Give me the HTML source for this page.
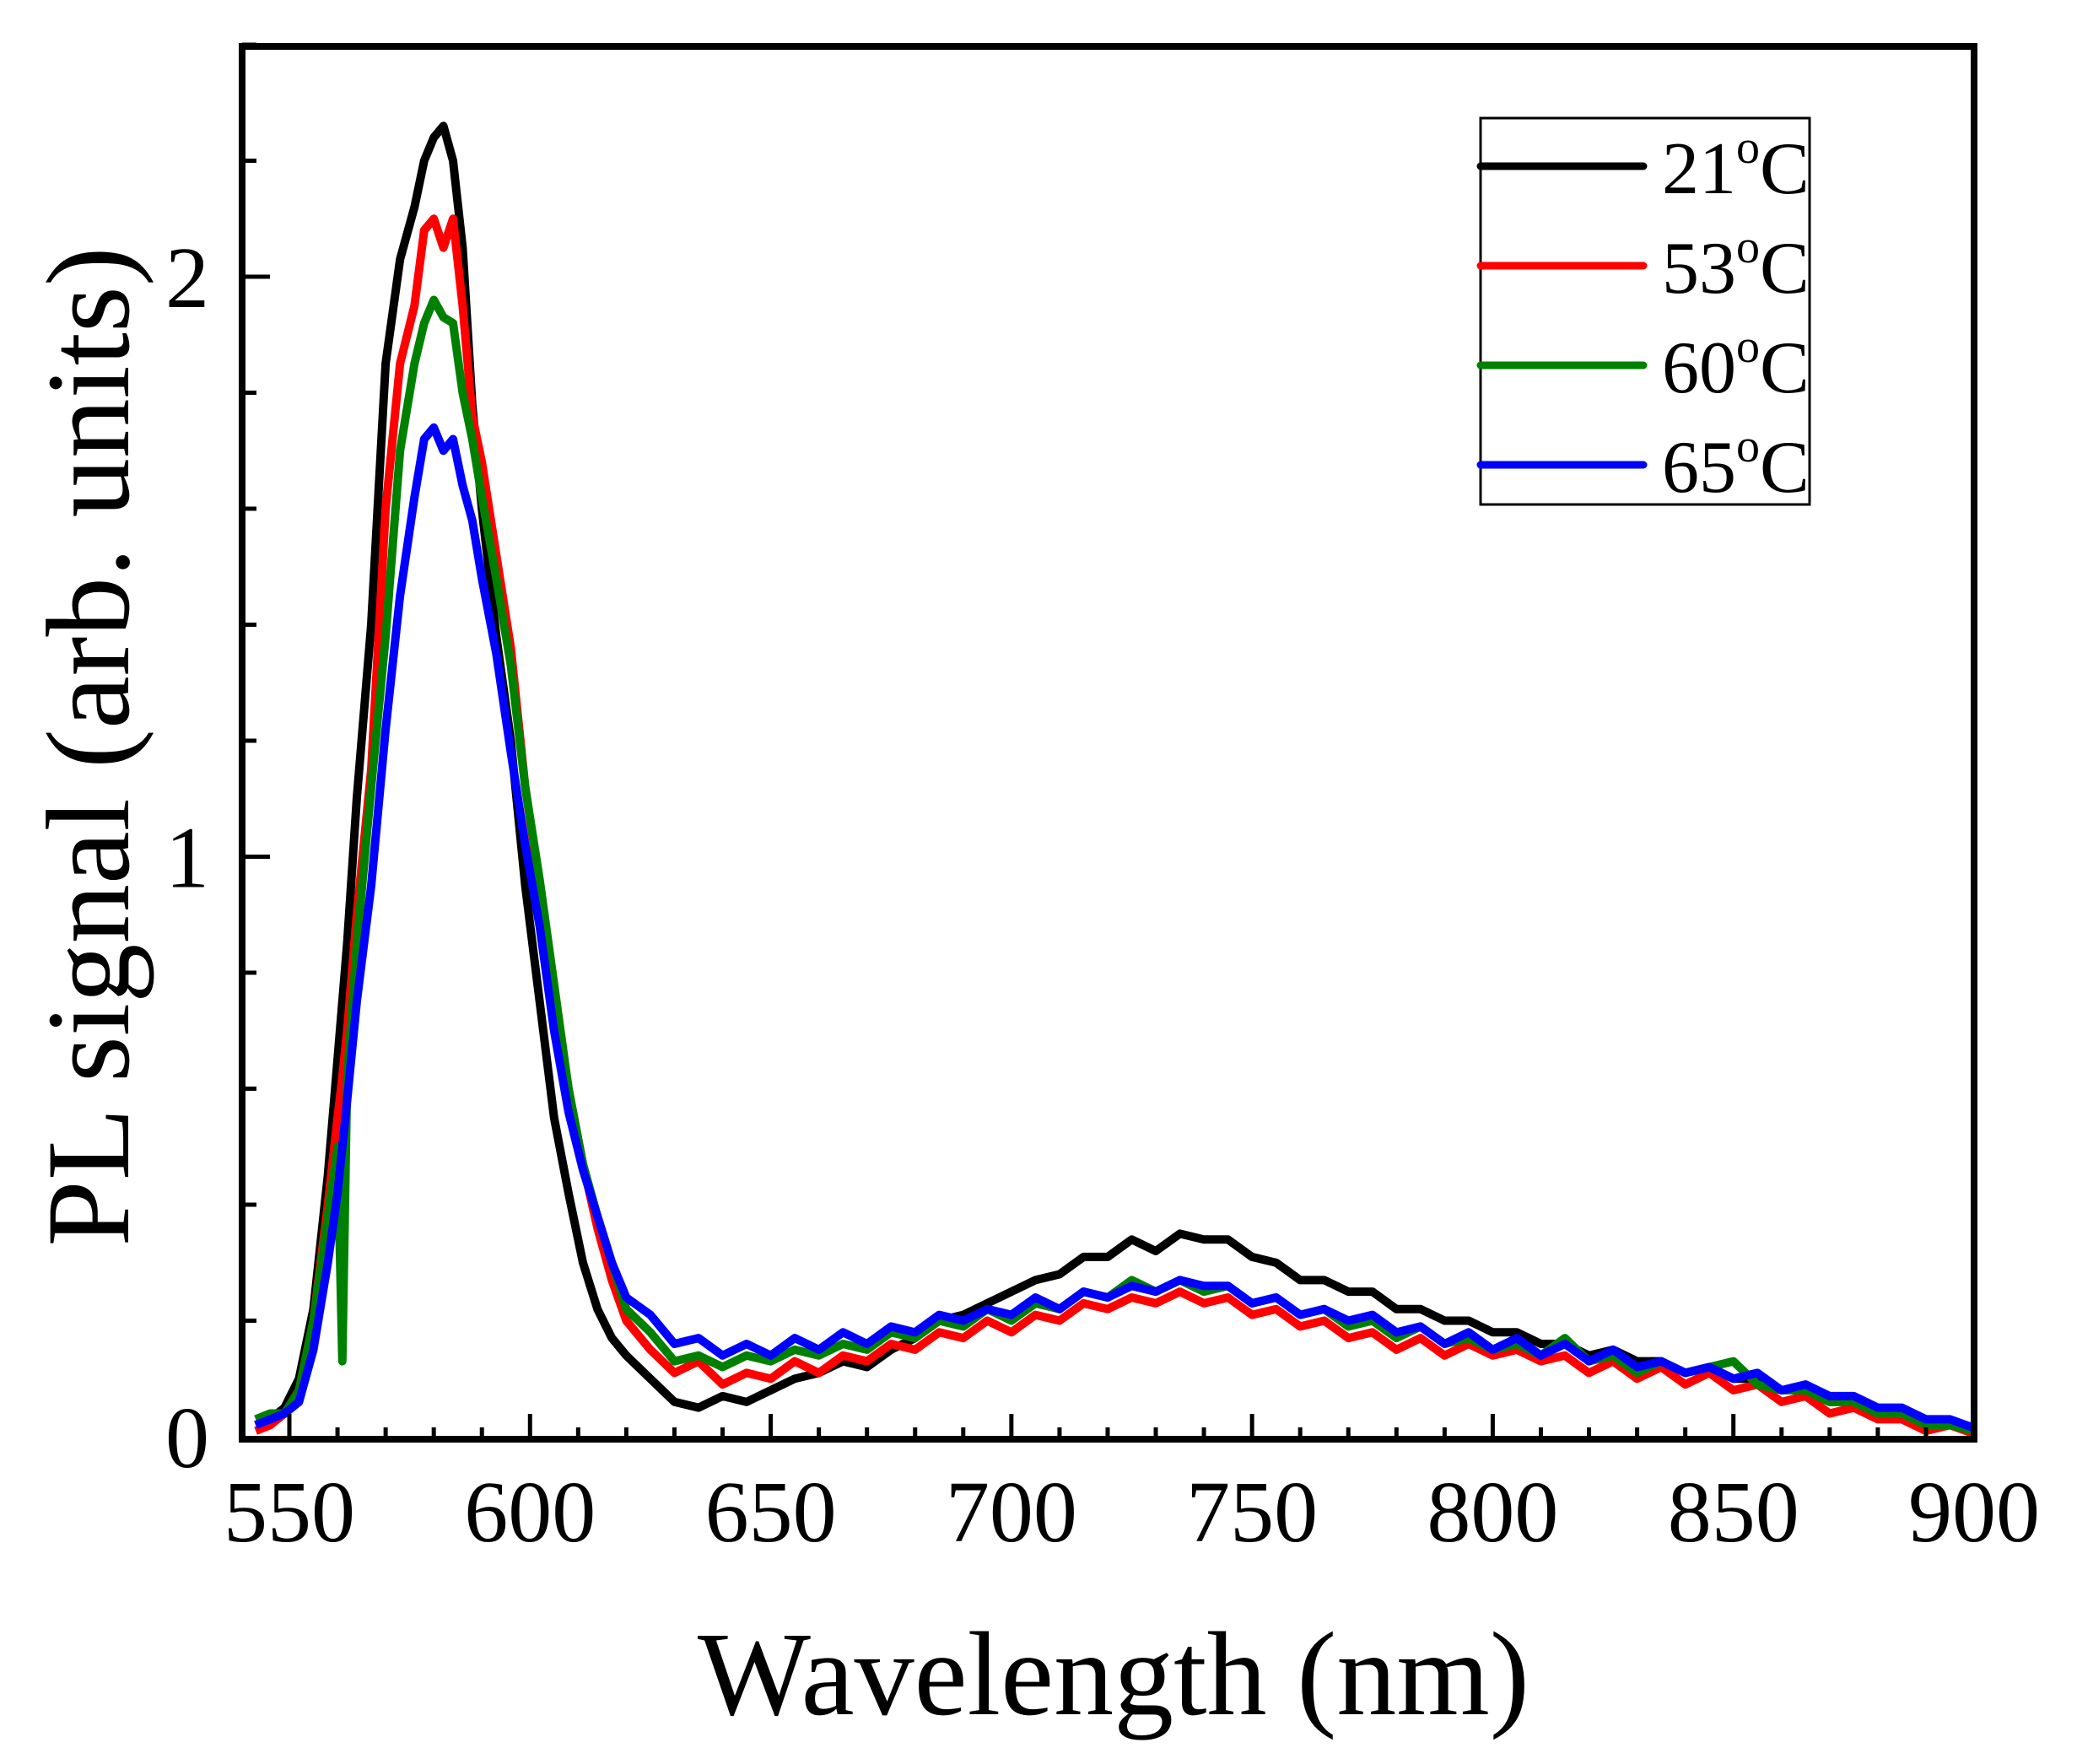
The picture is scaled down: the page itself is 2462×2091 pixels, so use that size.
<!DOCTYPE html>
<html><head><meta charset="utf-8"><title>PL spectra</title>
<style>
html,body{margin:0;padding:0;background:#fff;}
svg{display:block;}
text{font-family:"Liberation Serif","Times New Roman",serif;fill:#000;}
</style></head>
<body>
<svg id="chart" width="2462" height="2091" viewBox="0 0 2462 2091" xmlns="http://www.w3.org/2000/svg">
<rect x="0" y="0" width="2462" height="2091" fill="#fff"/>
<g id="series"></g>
<g id="axes"></g>
<text x="1320" y="2032" font-size="142" text-anchor="middle">Wavelength (nm)</text>
<text transform="translate(152,885) rotate(-90)" font-size="141" text-anchor="middle">PL signal (arb. units)</text>
<g id="legend"></g>
</svg>
<script>
const wavelengths = [543,546,549,552,555,558,560,561,562,564,567,570,573,576,578,580,582,584,586,588,590,593,596,599,602,605,608,611,614,617,620,
625,630,635,640,645,650,655,660,665,670,675,680,685,690,695,700,705,710,715,720,725,730,735,740,745,750,755,760,765,770,775,780,785,790,795,800,805,810,815,820,825,830,835,840,845,850,855,860,865,870,875,880,885,890,895,900];
const series21 = [0.02,0.03,0.05,0.1,0.22,0.45,0.65,0.75,0.85,1.1,1.4,1.85,2.03,2.12,2.2,2.24,2.26,2.2,2.05,1.78,1.6,1.38,1.2,0.95,0.75,0.55,0.42,0.3,0.22,0.17,0.14,
0.1,0.06,0.05,0.07,0.06,0.08,0.1,0.11,0.13,0.12,0.15,0.17,0.2,0.21,0.23,0.25,0.27,0.28,0.31,0.31,0.34,0.32,0.35,0.34,0.34,0.31,0.3,0.27,0.27,0.25,0.25,0.22,0.22,0.2,0.2,0.18,0.18,0.16,0.16,0.14,0.15,0.13,0.13,0.11,0.12,0.1,0.1,0.08,0.08,0.06,0.06,0.04,0.04,0.02,0.02,0.01];
const series53 = [0.01,0.02,0.04,0.08,0.2,0.4,0.55,0.62,0.7,0.9,1.15,1.6,1.85,1.95,2.08,2.1,2.05,2.1,1.95,1.76,1.68,1.52,1.36,1.12,0.95,0.76,0.6,0.47,0.36,0.27,0.2,
0.15,0.11,0.13,0.09,0.11,0.1,0.13,0.11,0.14,0.13,0.16,0.15,0.18,0.17,0.2,0.18,0.21,0.2,0.23,0.22,0.24,0.23,0.25,0.23,0.24,0.21,0.22,0.19,0.2,0.17,0.18,0.15,0.17,0.14,0.16,0.14,0.15,0.13,0.14,0.11,0.13,0.1,0.12,0.09,0.11,0.08,0.09,0.06,0.07,0.04,0.05,0.03,0.03,0.01,0.02,0.005];
const series60 = [0.03,0.04,0.04,0.08,0.2,0.38,0.5,0.13,0.62,0.85,1.12,1.38,1.7,1.85,1.92,1.96,1.93,1.92,1.8,1.72,1.62,1.48,1.33,1.12,0.96,0.78,0.6,0.47,0.38,0.3,0.22,
0.18,0.13,0.14,0.12,0.14,0.13,0.15,0.14,0.16,0.15,0.18,0.17,0.2,0.19,0.22,0.2,0.23,0.22,0.25,0.24,0.27,0.25,0.27,0.25,0.26,0.23,0.24,0.21,0.22,0.19,0.2,0.17,0.19,0.16,0.17,0.15,0.16,0.14,0.17,0.13,0.14,0.11,0.13,0.11,0.12,0.13,0.09,0.08,0.08,0.06,0.06,0.04,0.04,0.02,0.02,0.01];
const series65 = [0.02,0.03,0.04,0.06,0.15,0.3,0.42,0.5,0.58,0.75,0.95,1.22,1.45,1.62,1.72,1.74,1.7,1.72,1.64,1.58,1.48,1.35,1.18,1.02,0.88,0.7,0.56,0.46,0.38,0.3,0.24,
0.21,0.16,0.17,0.14,0.16,0.14,0.17,0.15,0.18,0.16,0.19,0.18,0.21,0.2,0.22,0.21,0.24,0.22,0.25,0.24,0.26,0.25,0.27,0.26,0.26,0.23,0.24,0.21,0.22,0.2,0.21,0.18,0.19,0.16,0.18,0.15,0.17,0.14,0.16,0.13,0.15,0.12,0.13,0.11,0.12,0.1,0.11,0.08,0.09,0.07,0.07,0.05,0.05,0.03,0.03,0.015];
const seriesLabels = ["21", "53", "60", "65"];
const xTickLabels = [550,600,650,700,750,800,850,900];
const yTickLabels = [0,1,2];

const NS = "http://www.w3.org/2000/svg";
const X0 = 343, X1 = 2340, Y0 = 1703, YU = 687.5;
function xScale(nm){ return X0 + (nm - 550) * (X1 - X0) / 350; }
function yScale(v){ return Y0 - v * YU; }
const frame = {left:287, right:2340, top:55, bottom:1706};

const seriesGroup = document.getElementById('series');
const allSeries = [series21, series53, series60, series65];
const colors = ["#000000", "#ff0000", "#008000", "#0000ff"];
allSeries.forEach(function(vals, si){
  let d = "";
  vals.forEach(function(v, i){
    d += (i ? "L" : "M") + xScale(wavelengths[i]).toFixed(1) + "," + yScale(v).toFixed(1);
  });
  const p = document.createElementNS(NS, "path");
  p.setAttribute("d", d);
  p.setAttribute("fill", "none");
  p.setAttribute("stroke", colors[si]);
  p.setAttribute("stroke-width", "10");
  p.setAttribute("stroke-linejoin", "round");
  
  
  seriesGroup.appendChild(p);
});

const axes = document.getElementById('axes');
function line(x1,y1,x2,y2,w,name){
  const l = document.createElementNS(NS, "line");
  l.setAttribute("x1",x1); l.setAttribute("y1",y1); l.setAttribute("x2",x2); l.setAttribute("y2",y2);
  l.setAttribute("stroke","#000"); l.setAttribute("stroke-width",w);
  
  
  axes.appendChild(l);
}
const fr = document.createElementNS(NS, "rect");
fr.setAttribute("x", frame.left); fr.setAttribute("y", frame.top);
fr.setAttribute("width", frame.right - frame.left); fr.setAttribute("height", frame.bottom - frame.top);
fr.setAttribute("fill","none"); fr.setAttribute("stroke","#000"); fr.setAttribute("stroke-width","8");


axes.appendChild(fr);

for (let nm = 550; nm <= 900; nm += 10){
  const major = (nm % 50 === 0);
  line(xScale(nm), frame.bottom, xScale(nm), frame.bottom - (major ? 30 : 14), 5, major ? 'x-major-tick' : 'x-minor-tick');
}
xTickLabels.forEach(function(t){
  const tx = document.createElementNS(NS, "text");
  tx.setAttribute("x", xScale(t)); tx.setAttribute("y", 1827);
  tx.setAttribute("font-size", "104"); tx.setAttribute("text-anchor", "middle");
  tx.textContent = t;
  
  
  axes.appendChild(tx);
});
for (let k = 1; k <= 12; k++){
  const v = k * 0.2;
  const major = (k % 5 === 0);
  line(frame.left, yScale(v), frame.left + (major ? 33 : 17), yScale(v), 5, major ? 'y-major-tick' : 'y-minor-tick');
}
yTickLabels.forEach(function(t){
  const tx = document.createElementNS(NS, "text");
  tx.setAttribute("x", 248); tx.setAttribute("y", yScale(t) + 36);
  tx.setAttribute("font-size", "104"); tx.setAttribute("text-anchor", "end");
  tx.textContent = t;
  
  
  axes.appendChild(tx);
});

const legend = document.getElementById('legend');
const lb = document.createElementNS(NS, "rect");
lb.setAttribute("x", 1755); lb.setAttribute("y", 140); lb.setAttribute("width", 390); lb.setAttribute("height", 458);
lb.setAttribute("fill", "#fff"); lb.setAttribute("stroke", "#000"); lb.setAttribute("stroke-width", "3");


legend.appendChild(lb);
seriesLabels.forEach(function(lab, i){
  const y = 197 + i * 118;
  const l = document.createElementNS(NS, "line");
  l.setAttribute("x1", 1755); l.setAttribute("x2", 1948); l.setAttribute("y1", y); l.setAttribute("y2", y);
  l.setAttribute("stroke", colors[i]); l.setAttribute("stroke-width", "9"); l.setAttribute("stroke-linecap", "round");
  
  
  legend.appendChild(l);
  const t = document.createElementNS(NS, "text");
  t.setAttribute("x", 1970); t.setAttribute("y", y + 32); t.setAttribute("font-size", "88");
  t.innerHTML = lab + '<tspan font-size="56" dy="-36">o</tspan><tspan dy="36">C</tspan>';
  
  
  legend.appendChild(t);
});
</script>
</body></html>
